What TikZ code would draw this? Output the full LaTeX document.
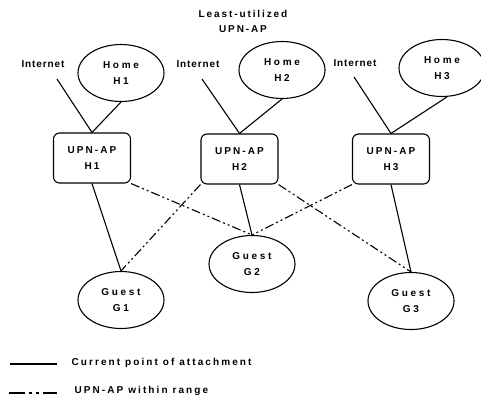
\documentclass[tikz,border=0pt]{standalone}
\usepackage{fontspec}
\setmainfont{Liberation Sans}
\newfontfamily\diafont[LetterSpace=21]{Liberation Sans}
\usetikzlibrary{shapes,positioning}

\begin{document}
\begin{tikzpicture}[x=1pt,y=-1pt,line width=1.1pt,
  lbl/.style={font=\diafont\bfseries\fontsize{10}{16}\selectfont,align=center,inner sep=0pt},
  wide/.style={font=\diafont\bfseries\fontsize{10}{16}\selectfont\addfontfeature{LetterSpace=27}},
  narrow/.style={font=\diafont\bfseries\fontsize{10}{15}\selectfont\addfontfeature{LetterSpace=#1}},
  home/.style={lbl,wide,ellipse,draw,minimum width=86pt,minimum height=57pt},
  ap/.style={lbl,draw,rounded corners=6pt,minimum width=77pt,minimum height=50pt},
  inrange/.style={dash pattern=on 9pt off 3pt on 2pt off 3pt on 2pt off 3pt}]
              \useasboundingbox (0,0) rectangle (481,397);
              \node[lbl,narrow=19] (least) at (243,21) {Least-utilized\\UPN-AP};

              \node[home] (h1) at (121,73) {Home\\H1};
              \node[home] (h2) at (282,70) {Home\\H2};
              \node[home] (h3) at (442,68) {Home\\H3};

              \node[lbl,narrow=9] (in1) at (43,64) {Internet};
              \node[lbl,narrow=9] (in2) at (198,64) {Internet};
              \node[lbl,narrow=9] (in3) at (355,63) {Internet};
              \coordinate (i1) at (57,79);
              \coordinate (i2) at (202,79);
              \coordinate (i3) at (354,77);

              \node[ap] (ap1) at (92,158) {UPN-AP\\H1};
              \node[ap] (ap2) at (239.5,159) {UPN-AP\\H2};
              \node[ap] (ap3) at (391,159) {UPN-AP\\H3};

              \node[home] (g1) at (121,300) {Guest\\G1};
              \node[home] (g2) at (252,264) {Guest\\G2};
              \node[home] (g3) at (411,301) {Guest\\G3};

              \draw (i1) -- (ap1.north);
              \draw (i2) -- (ap2.north);
              \draw (i3) -- (ap3.north);
              \draw (h1.south) -- (ap1.north);
              \draw (h2.south) -- (ap2.north);
              \draw (h3.-80) -- (ap3.north);

              \draw (ap1.south) -- (g1.north);
              \draw (ap2.south) -- (g2.north);
              \draw (ap3.south) -- (g3.north);
              \draw[inrange] (ap1.south east) -- (g2.north);
              \draw[inrange] (ap2.south west) -- (g1.north);
              \draw[inrange] (ap2.south east) -- (g3.north);
              \draw[inrange] (ap3.south west) -- (g2.north);

              % legend
              \coordinate (k1a) at (10,364);
              \coordinate (k1b) at (57,364);
              \coordinate (k2a) at (9,393);
              \coordinate (k2b) at (57,393);
              \draw (k1a) -- (k1b);
              \draw[inrange,dash pattern=on 16pt off 4pt on 3pt off 4pt on 3pt off 4pt] (k2a) -- (k2b);
              \node[lbl,anchor=west] (cur) at (71,363) {Current point of attachment};
              \node[lbl,anchor=west] (inr) at (74,391) {UPN-AP within range};
            \end{tikzpicture}
\end{document}
